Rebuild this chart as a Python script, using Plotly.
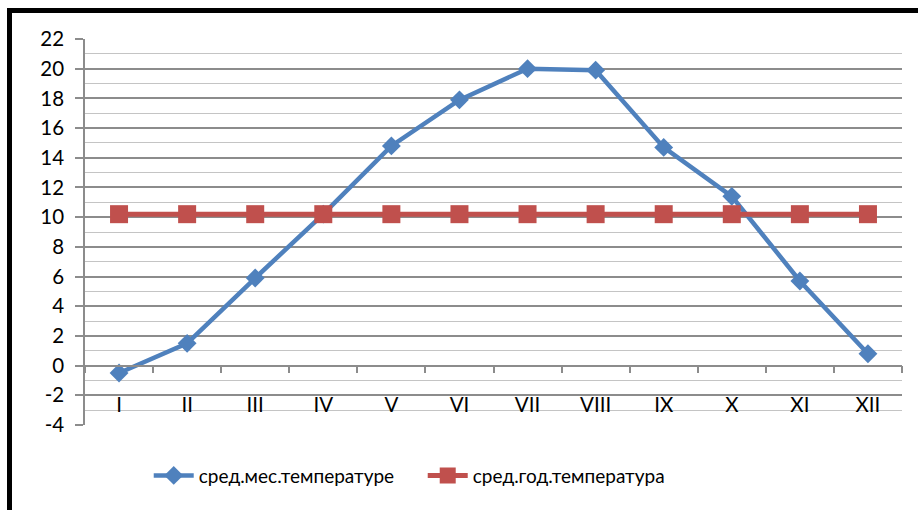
import plotly.graph_objects as go

months = ["I", "II", "III", "IV", "V", "VI", "VII", "VIII", "IX", "X", "XI", "XII"]
monthly_temp = [-0.5, 1.5, 5.9, 10.2, 14.8, 17.9, 20.0, 19.9, 14.7, 11.4, 5.7, 0.8]
annual_temp = [10.2] * 12
y_ticks = [-4, -2, 0, 2, 4, 6, 8, 10, 12, 14, 16, 18, 20, 22]
y_tick_labels = ["-4", "-2", "0", "2", "4", "6", "8", "10", "12", "14", "16", "18", "20", "22"]
name_monthly = "сред.мес.температуре"
name_annual = "сред.год.температура"

FONT = "Lato"
GRID_MAJOR = "#8C8C8C"
GRID_MINOR = "#C4C4C4"

fig = go.Figure()
fig.add_trace(go.Scatter(
    x=months, y=monthly_temp, mode="lines+markers", name=name_monthly,
    line=dict(color="#4F81BD", width=4.5),
    marker=dict(symbol="diamond", size=14.5, color="#4F81BD"),
))
fig.add_trace(go.Scatter(
    x=months, y=annual_temp, mode="lines+markers", name=name_annual,
    line=dict(color="#C0504D", width=5),
    marker=dict(symbol="square", size=18, color="#C0504D"),
))

ymin, ymax = -4, 22
fig.update_layout(
    width=918, height=510,
    margin=dict(l=85, r=16, t=39, b=84.5, pad=0, autoexpand=False),
    paper_bgcolor="white", plot_bgcolor="white",
    font=dict(family=FONT, size=20, color="black"),
    showlegend=True,
    legend=dict(orientation="h", x=0.078, xanchor="left", y=-0.131, yanchor="middle",
                font=dict(family=FONT, size=19, color="black"),
                itemwidth=40, entrywidth=219, entrywidthmode="pixels",
                bgcolor="rgba(0,0,0,0)"),
    xaxis=dict(
        type="category", range=[-0.5, 11.5],
        anchor="free", position=(0 - ymin) / (ymax - ymin),
        showline=True, linecolor=GRID_MAJOR, linewidth=1.5,
        ticks="outside", tickson="boundaries", ticklen=7, tickcolor=GRID_MAJOR, tickwidth=1.5,
        showgrid=False, zeroline=False,
        ticklabelstandoff=21,
        tickfont=dict(family=FONT, size=20.5, color="black"),
    ),
    yaxis=dict(
        range=[ymin, ymax], tickmode="array", tickvals=y_ticks, ticktext=y_tick_labels,
        showline=True, linecolor=GRID_MAJOR, linewidth=1.5,
        ticks="outside", ticklen=8, tickcolor=GRID_MAJOR, tickwidth=1.5,
        showgrid=True, gridcolor=GRID_MAJOR, gridwidth=1.5,
        zeroline=False,
        minor=dict(dtick=1, tick0=0, showgrid=True, gridcolor=GRID_MINOR, gridwidth=1.2, ticks=""),
        ticklabelstandoff=7,
        tickfont=dict(family=FONT, size=20.5, color="black"),
    ),
)

# outer chart border (only top and left visible in crop)
fig.add_shape(type="rect", xref="paper", yref="paper",
              x0=(9.5 - 85) / 817, x1=1.2, y0=-0.4, y1=(425.5 - 10.5) / 386.5,
              line=dict(color="black", width=5), fillcolor="rgba(0,0,0,0)", layer="above")

fig.write_html("out.html", config={"displayModeBar": False},
               post_script="document.body.style.margin='0';")
